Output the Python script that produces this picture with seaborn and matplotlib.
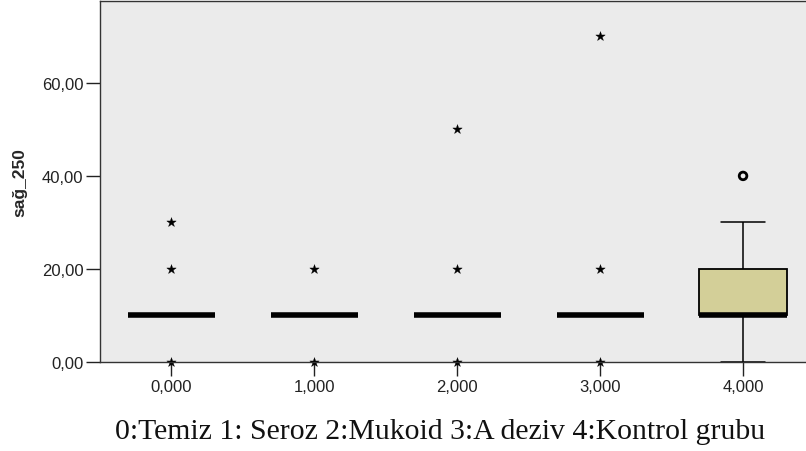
import numpy as np
import pandas as pd
import matplotlib
matplotlib.use("Agg")
import matplotlib.pyplot as plt
import seaborn as sns

# Groups (coded 0..4) and the observed sağ_250 values with their frequencies
group_codes = [0, 1, 2, 3, 4]
group_labels = ["0,000", "1,000", "2,000", "3,000", "4,000"]

g0_values = [0, 10, 20, 30]
g0_counts = [1, 16, 1, 1]
g1_values = [0, 10, 20]
g1_counts = [2, 16, 2]
g2_values = [0, 10, 20, 50]
g2_counts = [2, 16, 2, 1]
g3_values = [0, 10, 20, 70]
g3_counts = [1, 16, 1, 1]
g4_values = [0, 10, 20, 30, 40]
g4_counts = [1, 5, 3, 1, 1]

y_ticks = [0, 20, 40, 60]
y_tick_labels = ["0,00", "20,00", "40,00", "60,00"]
y_label = "sağ_250"
x_caption = "0:Temiz 1: Seroz 2:Mukoid 3:A deziv 4:Kontrol grubu"

groups_values = [g0_values, g1_values, g2_values, g3_values, g4_values]
groups_counts = [g0_counts, g1_counts, g2_counts, g3_counts, g4_counts]

rows = []
for code, vals, cnts in zip(group_codes, groups_values, groups_counts):
    for v in np.repeat(vals, cnts):
        rows.append({"grup": code, "sag_250": float(v)})
df = pd.DataFrame(rows)
df["grup_lbl"] = pd.Categorical(df["grup"].map(dict(zip(group_codes, group_labels))),
                                categories=group_labels)

sns.set_style("white")
fig = plt.figure(figsize=(8.06, 4.52), dpi=100)
ax = fig.add_axes([100 / 806, 1 - 363 / 452, 714.5 / 806, 361 / 452])
ax.set_facecolor("#EBEBEB")

sns.boxplot(data=df, x="grup_lbl", y="sag_250", ax=ax, width=0.61,
            color="#D3CF98", showfliers=False, whis=1.5,
            linecolor="black", linewidth=1.0,
            boxprops=dict(facecolor="#D3CF98", edgecolor="black", linewidth=1.3),
            medianprops=dict(color="black", linewidth=4.0, solid_capstyle="butt"),
            whiskerprops=dict(color="black", linewidth=1.1),
            capprops=dict(color="black", linewidth=1.1))

# Outliers (1.5–3 IQR, circles) and extremes (>3 IQR, stars), Tukey-style
out_x, out_y, ext_x, ext_y = [], [], [], []
for i, code in enumerate(group_codes):
    v = df.loc[df["grup"] == code, "sag_250"].to_numpy()
    q1, q3 = np.percentile(v, [25, 75])
    iqr = q3 - q1
    for val in np.unique(v):
        if val > q3 + 3 * iqr or val < q1 - 3 * iqr:
            ext_x.append(i); ext_y.append(val)
        elif val > q3 + 1.5 * iqr or val < q1 - 1.5 * iqr:
            out_x.append(i); out_y.append(val)

ax.scatter(ext_x, ext_y, marker="*", s=50, facecolor="black",
           edgecolor="black", linewidth=0.3, zorder=5, clip_on=False)
ax.scatter(out_x, out_y, marker="o", s=30, facecolor="none",
           edgecolor="black", linewidth=2.0, zorder=5)

ax.set_xlim(-0.5, 4.5)
ax.set_ylim(0, 77.6)
ax.set_yticks(y_ticks)
ax.set_yticklabels(y_tick_labels)

for s in ax.spines.values():
    s.set_color("#333333")
    s.set_linewidth(1.0)
    s.set_visible(True)
    s.set_zorder(6)

ax.tick_params(axis="both", which="major", bottom=True, left=True,
               direction="out", length=10, width=1.0,
               color="#222222", labelsize=12, labelcolor="#222222", pad=2)
for lbl in ax.get_xticklabels() + ax.get_yticklabels():
    lbl.set_family("Liberation Sans")

ax.set_ylabel(y_label, family="Liberation Sans", fontweight="bold",
              fontsize=12.5, labelpad=4)
ax.yaxis.set_label_coords(-(100 - 27) / 714.5, 0.5)
ax.set_xlabel("")
fig.text(440.5 / 806, 1 - 439 / 452, x_caption,
         family="Liberation Serif", fontsize=21.4, ha="center", va="baseline",
         color="#111111")

fig.savefig("out.png", dpi=100, facecolor="white")
